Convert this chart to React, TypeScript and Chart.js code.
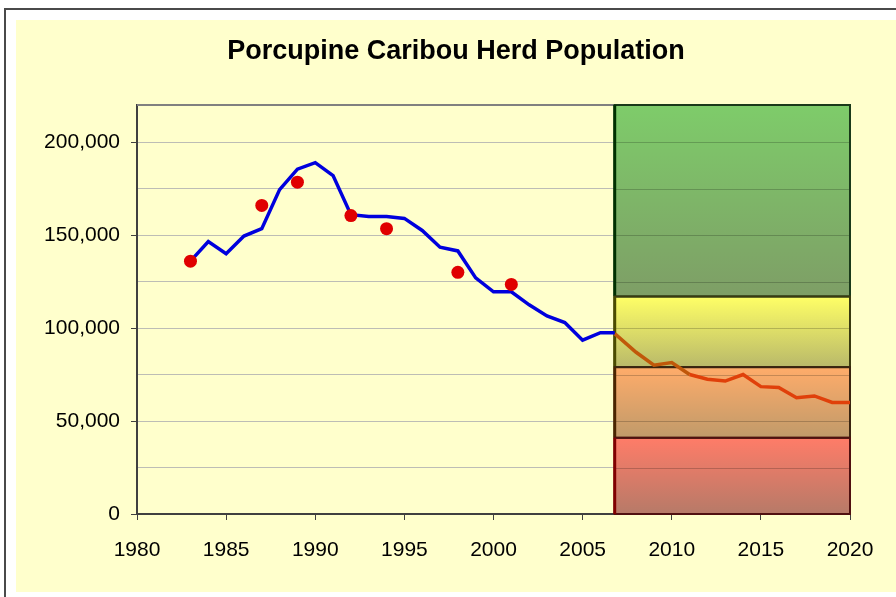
import React, { useEffect, useRef } from 'react';
import { Chart, registerables } from 'chart.js';

Chart.register(...registerables);

const chartTitle = 'Porcupine Caribou Herd Population';

// Modelled herd size (blue line)
const modelYears = [1983, 1984, 1985, 1986, 1987, 1988, 1989, 1990, 1991, 1992, 1993, 1994, 1995, 1996, 1997, 1998, 1999, 2000, 2001, 2002, 2003, 2004, 2005, 2006, 2006.8];
const modelValues = [136000, 146500, 140000, 149500, 153500, 174500, 185500, 189000, 182000, 161000, 160000, 160000, 159000, 152500, 143500, 141500, 127000, 119500, 119500, 112500, 106500, 103000, 93500, 97500, 97500];

// Photo-census counts (red dots)
const censusYears = [1983, 1987, 1989, 1992, 1994, 1998, 2001];
const censusValues = [136000, 166000, 178500, 160500, 153500, 130000, 123500];

// Projection (red/orange line)
const projYears = [2006.8, 2008, 2009, 2010, 2011, 2012, 2013, 2014, 2015, 2016, 2017, 2018, 2019, 2020];
const projValues = [97000, 87000, 80000, 81500, 75000, 72500, 71500, 75000, 68500, 68000, 62500, 63500, 60000, 60000];

// Status bands (value ranges)
const bandTops = [220000, 117000, 79000, 41000];
const bandBottoms = [117000, 79000, 41000, 0];
const bandStartYear = 2006.8;
const bandEndYear = 2020;

// Axis ranges and ticks
const xMin = 1980;
const xMax = 2020;
const xTickValues = [1980, 1985, 1990, 1995, 2000, 2005, 2010, 2015, 2020];
const yMin = 0;
const yMax = 220000;
const yGridValues = [0, 25000, 50000, 75000, 100000, 125000, 150000, 175000, 200000];
const yLabelValues = [0, 50000, 100000, 150000, 200000];

// Styles
const bandColorTop = ['#7ECC6A', '#FFFF66', '#FFAC6A', '#FF7C68'];
const bandColorBottom = ['#7E9E66', '#B9B96A', '#C09A6A', '#B67A68'];
const bandEdge = ['#1A3A1A', '#3A3A10', '#3A2410', '#501010'];
const bandLeftEdge = ['#003000', '#4A4A00', '#4A2400', '#800000'];
const FONT = 'Liberation Sans, Arial, sans-serif';

const titlePlugin = {
  id: 'centeredTitle',
  afterDraw(chart: any) {
    const { ctx, width } = chart;
    ctx.save();
    ctx.font = `bold 27px ${FONT}`;
    ctx.fillStyle = '#000';
    ctx.textAlign = 'center';
    ctx.textBaseline = 'middle';
    ctx.fillText(chartTitle, width / 2, 32);
    ctx.restore();
  },
};

const bandsPlugin = {
  id: 'statusBands',
  beforeDatasetsDraw(chart: any) {
    const { ctx, chartArea } = chart;
    const x = chart.scales.x;
    const y = chart.scales.y;
    const x0 = x.getPixelForValue(bandStartYear);
    const x1 = x.getPixelForValue(bandEndYear);
    ctx.save();
    // plot area top border
    ctx.strokeStyle = '#808080';
    ctx.lineWidth = 2;
    ctx.beginPath();
    ctx.moveTo(chartArea.left, chartArea.top);
    ctx.lineTo(x0, chartArea.top);
    ctx.stroke();

    bandTops.forEach((top, i) => {
      const yt = y.getPixelForValue(top);
      const yb = y.getPixelForValue(bandBottoms[i]);
      const g = ctx.createLinearGradient(0, yt, 0, yb);
      g.addColorStop(0, bandColorTop[i]);
      g.addColorStop(1, bandColorBottom[i]);
      ctx.fillStyle = g;
      ctx.fillRect(x0, yt, x1 - x0, yb - yt);
      ctx.strokeStyle = 'rgba(0,0,0,0.2)';
      ctx.lineWidth = 1;
      yGridValues.forEach((v) => {
        const py = Math.round(y.getPixelForValue(v)) + 0.5;
        if (py > yt + 2 && py < yb - 2) {
          ctx.beginPath();
          ctx.moveTo(x0, py);
          ctx.lineTo(x1, py);
          ctx.stroke();
        }
      });
    });
    bandTops.forEach((top, i) => {
      const yt = y.getPixelForValue(top);
      const yb = y.getPixelForValue(bandBottoms[i]);
      ctx.strokeStyle = bandEdge[i];
      ctx.lineWidth = 2;
      ctx.strokeRect(x0, yt, x1 - x0, yb - yt);
      ctx.strokeStyle = bandLeftEdge[i];
      ctx.lineWidth = 3;
      ctx.beginPath();
      ctx.moveTo(x0, yt);
      ctx.lineTo(x0, yb);
      ctx.stroke();
    });
    ctx.restore();
  },
};

export default function App() {
  const canvasRef = useRef<HTMLCanvasElement | null>(null);

  useEffect(() => {
    document.body.style.margin = '0';
    const canvas = canvasRef.current;
    if (!canvas) return;
    const toPts = (xs: number[], ys: number[]) => xs.map((xv, i) => ({ x: xv, y: ys[i] }));
    const chart = new Chart(canvas, {
      type: 'line',
      data: {
        datasets: [
          {
            label: 'Census',
            data: toPts(censusYears, censusValues),
            showLine: false,
            pointRadius: 6.5,
            pointBackgroundColor: '#E00000',
            pointBorderWidth: 0,
            borderColor: '#E00000',
          },
          {
            label: 'Model',
            data: toPts(modelYears, modelValues),
            borderColor: '#0000DD',
            borderWidth: 3.5,
            pointRadius: 0,
            tension: 0,
            fill: false,
          },
          {
            label: 'Projection',
            data: toPts(projYears, projValues),
            borderColor: '#E0400A',
            borderWidth: 3.5,
            pointRadius: 0,
            tension: 0,
            fill: false,
            segment: {
              borderColor: (c: any) => (c.p0.parsed.y > bandTops[2] ? '#C0580A' : '#E0400A'),
            },
          },
        ],
      },
      options: {
        responsive: false,
        animation: false,
        devicePixelRatio: 1,
        layout: { padding: { left: 0, right: 46, top: 85, bottom: 0 } },
        plugins: {
          legend: { display: false },
          tooltip: { enabled: false },
          title: { display: false },
        },
        scales: {
          x: {
            type: 'linear',
            min: xMin,
            max: xMax,
            afterBuildTicks: (s: any) => {
              s.ticks = xTickValues.map((v) => ({ value: v }));
            },
            ticks: {
              callback: (v: any) => String(v),
              font: { family: FONT, size: 21 },
              color: '#000',
              padding: 18,
              maxRotation: 0,
              autoSkip: false,
            },
            grid: { drawOnChartArea: false, tickLength: 6, color: '#404040', tickColor: '#404040' },
            border: { color: '#404040', width: 2 },
            afterFit: (s: any) => {
              s.height = 78;
            },
          },
          y: {
            min: yMin,
            max: yMax,
            afterBuildTicks: (s: any) => {
              s.ticks = yGridValues.map((v) => ({ value: v }));
            },
            ticks: {
              callback: (v: any) => (yLabelValues.includes(Number(v)) ? Number(v).toLocaleString('en-US') : ''),
              font: { family: FONT, size: 21 },
              color: '#000',
              padding: 11,
              autoSkip: false,
            },
            grid: {
              color: '#BDBDB5',
              tickLength: 6,
              tickColor: (c: any) => (c.tick && yLabelValues.includes(c.tick.value) ? '#404040' : 'rgba(0,0,0,0)'),
            },
            border: { color: '#404040', width: 2 },
            afterFit: (s: any) => {
              s.width = 121;
            },
          },
        },
      },
      plugins: [bandsPlugin, titlePlugin],
    } as any);
    return () => chart.destroy();
  }, []);

  return (
    <div style={{ position: 'relative', width: 896, height: 597, background: '#FFFFFF', overflow: 'hidden' }}>
      <div
        style={{
          position: 'absolute',
          left: 4,
          top: 8,
          width: 900,
          height: 600,
          borderLeft: '2px solid #4A4A4A',
          borderTop: '2px solid #4A4A4A',
        }}
      />
      <div style={{ position: 'absolute', left: 16, top: 20, width: 880, height: 572, background: '#FFFFCC' }}>
        <canvas ref={canvasRef} width={880} height={572} style={{ display: 'block' }} />
      </div>
    </div>
  );
}
